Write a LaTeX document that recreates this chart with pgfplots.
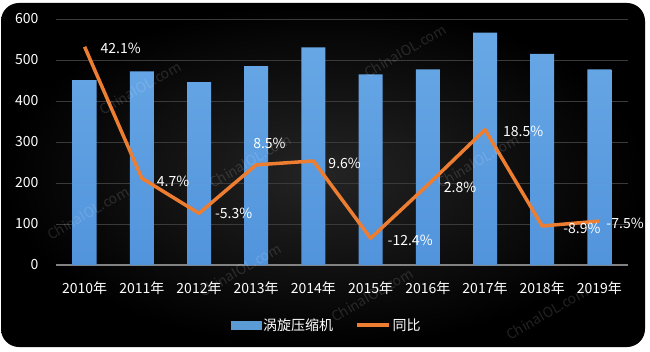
\documentclass[border=0pt]{standalone}
\usepackage{fontspec}
\setmainfont{Noto Sans CJK SC}
\usepackage{pgfplots}
\pgfplotsset{compat=1.18}
\usepackage{pgfplotstable}
\definecolor{barblue}{RGB}{91,155,213}
\definecolor{bartop}{RGB}{104,168,230}
\definecolor{barbot}{RGB}{82,148,220}
\definecolor{lineorange}{RGB}{237,125,49}
\definecolor{gridc}{RGB}{58,58,58}
\definecolor{basec}{RGB}{130,130,130}

\pgfplotstableread{
x y
0 451
1 472
2 446
3 485
4 531
5 465
6 477
7 567
8 515
9 477
}\bars

\pgfplotstableread{
x y lab dx dy
0 42.1 42.1 11 -2
1 4.7 4.7 10 -3
2 -5.3 -5.3 11 0
3 8.5 8.5 -8 21
4 9.6 9.6 10 -2
5 -12.4 -12.4 12 -2
6 2.8 2.8 11 -2
7 18.5 18.5 13 -2
8 -8.9 -8.9 16 -2
9 -7.5 -7.5 2 -2
}\yoy

\begin{document}
\begin{tikzpicture}
\useasboundingbox (0,0) rectangle (650pt,351pt);
\shade[rounded corners=18pt, inner color={rgb,255:red,36;green,36;blue,36}, outer color=black] (1pt,4pt) rectangle (645pt,348pt);
\begin{axis}[
  at={(56pt,86pt)}, anchor=south west, scale only axis,
  width=572pt, height=246pt,
  xmin=-0.5, xmax=9.5, ymin=0, ymax=600,
  ytick={0,100,...,600}, xtick={0,...,9},
  xticklabels={2010年,2011年,2012年,2013年,2014年,2015年,2016年,2017年,2018年,2019年},
  ybar, bar width=24pt,
  axis x line*=bottom, axis y line*=left,
  y axis line style={draw=none},
  x axis line style={draw=basec, line width=1.2pt, -},
  major tick length=0pt,
  ymajorgrids, grid style={draw=gridc, line width=0.8pt},
  tick label style={text=white, font=\fontsize{14}{16}\selectfont},
  /pgf/number format/assume math mode=true,
  xticklabel style={anchor=center, yshift=-23pt},
  yticklabel style={anchor=east, xshift=-14pt},
]
\addplot[draw=none, top color=bartop, bottom color=barbot] table[x=x,y=y] {\bars};
\end{axis}
\begin{axis}[
  at={(56pt,86pt)}, anchor=south west, scale only axis,
  width=572pt, height=246pt,
  xmin=-0.5, xmax=9.5, ymin=-20, ymax=50,
  hide axis, clip=false,
  legend style={at={(0.473,-0.244)}, anchor=center, draw=none, fill=none,
    text=white, font=\fontsize{14}{16}\selectfont, legend columns=2,
    /tikz/every even column/.append style={column sep=20pt}},
]
\addlegendimage{legend image code/.code={\fill[barblue] (0pt,-4pt) rectangle (30pt,4pt);}}
\addlegendentry{涡旋压缩机}
\addplot[color=lineorange, line width=3.5pt, line join=round, mark=none,
  legend image code/.code={\draw[lineorange, line width=3.5pt] (0pt,0pt) -- (32pt,0pt);},
  nodes near coords={\pgfplotspointmeta\%},
  point meta=explicit symbolic,
  visualization depends on={\thisrow{dx} \as \ldx},
  visualization depends on={\thisrow{dy} \as \ldy},
  every node near coord/.append style={anchor=west, xshift=\ldx, yshift=\ldy,
    text=white, font=\fontsize{14}{16}\selectfont}
] table[x=x, y=y, meta=lab] {\yoy};
\addlegendentry{同比}
\end{axis}
\begin{scope}[every node/.style={rotate=30, text=white, opacity=0.13, font=\fontsize{14}{16}\selectfont}]
\node at (140pt,263pt) {ChinaIOL.com};
\node at (88pt,138pt) {ChinaIOL.com};
\node at (250pt,190pt) {ChinaIOL.com};
\node at (240pt,81pt) {ChinaIOL.com};
\node at (372pt,56pt) {ChinaIOL.com};
\node at (478pt,190pt) {ChinaIOL.com};
\node at (547pt,38pt) {ChinaIOL.com};
\node at (405pt,300pt) {ChinaIOL.com};
\end{scope}
\end{tikzpicture}
\end{document}
